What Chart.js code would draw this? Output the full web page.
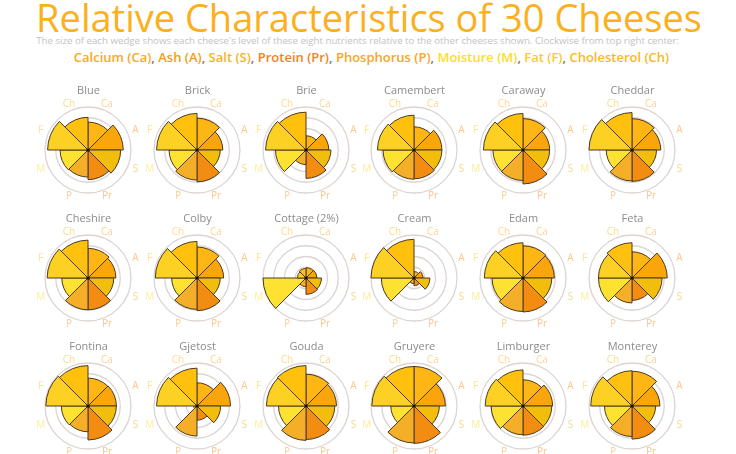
<!DOCTYPE html>
<html>
<head>
<meta charset="utf-8">
<script src="https://cdn.jsdelivr.net/npm/chart.js@4.4.0/dist/chart.umd.min.js"></script>
<style>
    body { margin: 0; width: 736px; height: 454px; overflow: hidden; background: #fff; position: relative; font-family: 'Open Sans', sans-serif; }
    #title { position: absolute; top: -9px; left: 0; width: 738px; text-align: center; font-size: 38px; color: #fbb01e; white-space: nowrap; }
    #sub { position: absolute; top: 34px; left: -14px; width: 743px; text-align: center; font-size: 9.7px; color: #c2c2c2; white-space: nowrap; }
    #legend { position: absolute; top: 47.5px; left: 0; width: 743px; text-align: center; font-size: 13px; font-weight: 600; color: #777; white-space: nowrap; }
    .cell { position: absolute; }
</style>
</head>
<body>
<div id="title">Relative Characteristics of 30 Cheeses</div>
<div id="sub">The size of each wedge shows each cheese's level of these eight nutrients relative to the other cheeses shown. Clockwise from top right center:</div>
<div id="legend"></div>
<script>
    // cheeses visible in the first three rows
    var cheeses = ['Blue', 'Brick', 'Brie', 'Camembert', 'Caraway', 'Cheddar',
        'Cheshire', 'Colby', 'Cottage (2%)', 'Cream', 'Edam', 'Feta',
        'Fontina', 'Gjetost', 'Gouda', 'Gruyere', 'Limburger', 'Monterey'];

    // relative level of each nutrient (0 - 1, outer ring = 1)
    var calcium     = [0.65, 0.74, 0.33, 0.54, 0.73, 0.73, 0.69, 0.72, 0.24, 0.15, 0.75, 0.61, 0.65, 0.54, 0.74, 0.92, 0.61, 0.81];
    var ash         = [0.82, 0.60, 0.53, 0.65, 0.62, 0.67, 0.65, 0.62, 0.25, 0.21, 0.73, 0.82, 0.66, 0.78, 0.71, 0.73, 0.69, 0.65];
    var salt        = [0.76, 0.54, 0.58, 0.65, 0.62, 0.57, 0.60, 0.54, 0.36, 0.37, 0.67, 0.70, 0.66, 0.55, 0.67, 0.59, 0.67, 0.55];
    var protein     = [0.69, 0.74, 0.66, 0.67, 0.79, 0.73, 0.74, 0.76, 0.38, 0.18, 0.79, 0.52, 0.79, 0.33, 0.78, 0.87, 0.68, 0.77];
    var phosphorus  = [0.63, 0.70, 0.34, 0.68, 0.71, 0.72, 0.74, 0.73, 0.20, 0.13, 0.78, 0.58, 0.60, 0.70, 0.80, 0.86, 0.67, 0.71];
    var moisture    = [0.65, 0.65, 0.71, 0.72, 0.70, 0.60, 0.61, 0.59, 1.00, 0.76, 0.72, 0.78, 0.62, 0.08, 0.64, 0.54, 0.74, 0.64];
    var fat         = [0.94, 0.94, 0.94, 0.85, 0.92, 1.00, 0.95, 0.97, 0.20, 1.00, 0.90, 0.78, 0.98, 0.94, 0.92, 0.98, 0.88, 0.96];
    var cholesterol = [0.76, 0.85, 0.88, 0.81, 0.85, 0.87, 0.88, 0.85, 0.22, 0.90, 0.82, 0.82, 0.94, 0.88, 0.94, 0.92, 0.84, 0.82];

    var axisLabels = ['Ca', 'A', 'S', 'Pr', 'P', 'M', 'F', 'Ch'];
    var legendNames = ['Calcium (Ca)', 'Ash (A)', 'Salt (S)', 'Protein (Pr)', 'Phosphorus (P)', 'Moisture (M)', 'Fat (F)', 'Cholesterol (Ch)'];
    var ringTicks = [0, 0.25, 0.5, 0.75, 1];

    var wedgeColors = ['#fdb614', '#fba50c', '#f2bd0b', '#f38d12', '#f5ae27', '#fde232', '#fdd024', '#ffc00e'];
    var labelColors = ['#fdd48e', '#fcc98a', '#f8d98a', '#f9c48e', '#fbcf94', '#feec98', '#fde392', '#fed98a'];
    var legendColors = ['#f8aa1f', '#f59d12', '#f3b41d', '#f2821c', '#f5a52a', '#fcdc2c', '#fbc92b', '#f9b81f'];

    // legend line
    var legendHtml = legendNames.map(function (n, i) {
        return '<span style="color:' + legendColors[i] + '">' + n + '</span>';
    }).join(', ');
    document.getElementById('legend').innerHTML = legendHtml;

    var colX = [89, 198, 307, 415, 524, 633];
    var rowY = [151, 279, 407];

    // labels around each rose + centre dot
    var roseLabels = {
        id: 'roseLabels',
        afterDraw: function (chart) {
            var scale = chart.scales.r;
            var ctx = chart.ctx;
            ctx.save();
            ctx.font = '10px "Open Sans", sans-serif';
            ctx.textAlign = 'center';
            ctx.textBaseline = 'middle';
            for (var i = 0; i < axisLabels.length; i++) {
                var a = (i + 0.5) * Math.PI / 4;
                var d = scale.drawingArea + 5.5 + 3 * Math.abs(Math.sin(a));
                var p = scale.getPointPosition(i, d, Math.PI / 8);
                ctx.fillStyle = labelColors[i];
                ctx.fillText(axisLabels[i], p.x, p.y);
            }
            ctx.fillStyle = '#111';
            ctx.beginPath();
            ctx.arc(scale.xCenter, scale.yCenter, 1.6, 0, Math.PI * 2);
            ctx.fill();
            ctx.restore();
        }
    };

    cheeses.forEach(function (name, k) {
        var cx = colX[k % 6];
        var cy = rowY[Math.floor(k / 6)];
        var canvas = document.createElement('canvas');
        canvas.className = 'cell';
        canvas.width = 110;
        canvas.height = 130;
        canvas.style.left = (cx - 55) + 'px';
        canvas.style.top = (cy - 70) + 'px';
        document.body.appendChild(canvas);

        var values = [calcium[k], ash[k], salt[k], protein[k], phosphorus[k], moisture[k], fat[k], cholesterol[k]];

        new Chart(canvas, {
            type: 'polarArea',
            data: {
                labels: axisLabels,
                datasets: [{
                    data: values,
                    backgroundColor: wedgeColors,
                    borderColor: '#4a3a1e',
                    borderWidth: 1
                }]
            },
            options: {
                responsive: false,
                animation: false,
                layout: {
                    padding: { left: 11, right: 12, top: 0, bottom: 17 }
                },
                plugins: {
                    legend: { display: false },
                    tooltip: { enabled: false },
                    title: {
                        display: true,
                        text: name,
                        color: '#8c8c8c',
                        font: { family: "'Open Sans', sans-serif", size: 11, weight: 'normal', lineHeight: 1.2 },
                        padding: { top: 3.4, bottom: 9.4 }
                    }
                },
                scales: {
                    r: {
                        min: 0,
                        max: 1,
                        afterBuildTicks: function (axis) {
                            axis.ticks = ringTicks.map(function (v) { return { value: v }; });
                        },
                        ticks: { display: false },
                        pointLabels: { display: false },
                        angleLines: { display: false },
                        grid: { color: '#dcd4d1', lineWidth: 1.3 }
                    }
                }
            },
            plugins: [roseLabels]
        });
    });
</script>
</body>
</html>
